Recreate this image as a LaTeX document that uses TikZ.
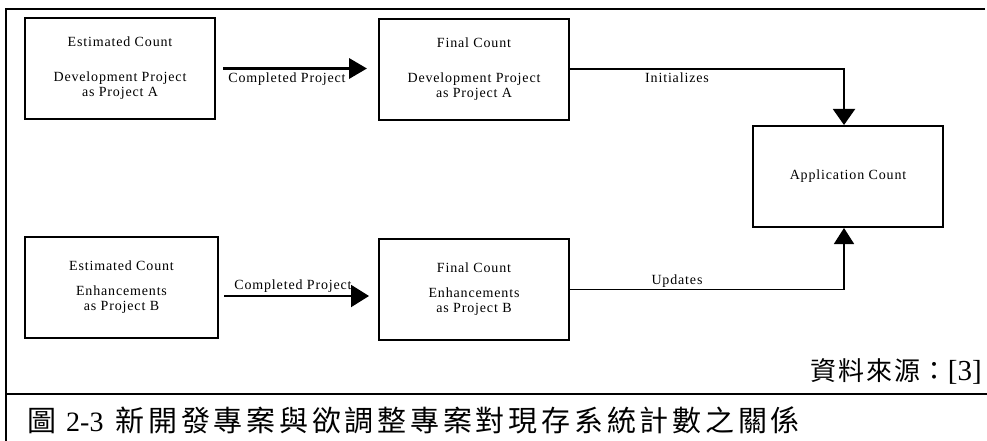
\documentclass[tikz,border=0pt]{standalone}
\usepackage{fontspec}
\setmainfont{Liberation Serif}
\newfontfamily\boxfont[LetterSpace=6]{Liberation Serif}
\newfontfamily\cjkcap[LetterSpace=13]{Noto Sans CJK TC}
\newfontfamily\cjksrc[LetterSpace=7]{Noto Sans CJK TC}
\usetikzlibrary{arrows.meta}
\tikzset{
  box/.style={draw, line width=2pt, minimum width=190pt, minimum height=101pt,
    inner sep=0pt, align=center, font=\boxfont\fontsize{14}{15}\selectfont},
  lbl/.style={inner sep=0pt, anchor=base, font=\boxfont\fontsize{14}{15}\selectfont},
  frame/.style={line width=2pt},
}
\begin{document}
\begin{tikzpicture}[x=1pt,y=-1pt]
\useasboundingbox[fill=white] (0,0) rectangle (987,441);

% frame
\draw[frame] (985,9) -- (6,9) -- (6,441);
\draw[line width=2.5pt] (6,394) -- (987,394);

% boxes
\node[box] (e1) at (120,68.5) {Estimated Count\\[20pt]Development Project\\as Project A};
\node[box] (f1) at (474,69.5) {Final Count\\[20pt]Development Project\\as Project A};
\node[box, minimum width=193pt] (e2) at (121.5,287.5) {Estimated Count\\[10pt]Enhancements\\as Project B};
\node[box] (f2) at (474,289.5) {Final Count\\[10pt]Enhancements\\as Project B};
\node[box] (app) at (848,176.5) {Application Count};

% connectors
\draw[line width=3.5pt, -{Triangle[length=18pt,width=20pt]}, shorten <=7pt, shorten >=11pt]
  (e1.east) -- (e1.east -| f1.west);
\draw[line width=2pt, -{Triangle[length=18pt,width=22pt]}, shorten <=5pt, shorten >=9pt]
  ([yshift=-8.5pt]e2.east) -- ([yshift=-6.5pt]f2.west);
\draw[line width=2pt, -{Triangle[length=16pt,width=22pt]}]
  (f1.east) -| ([xshift=-4pt]app.north);
\draw[line width=1.6pt, -{Triangle[length=16pt,width=20pt]}]
  (f2.east) -| ([xshift=-4pt]app.south);

% connector labels
\node[lbl] (c1) at (287,83) {Completed Project};
\node[lbl] (c2) at (293,289) {Completed Project};
\node[lbl] (ini) at (677,83) {Initializes};
\node[lbl] (upd) at (677,284) {Updates};

% source and caption
\node[anchor=base east, inner sep=0pt] (src) at (982,380)
  {\cjksrc\fontsize{26}{28}\selectfont 資料來源：\fontspec{Liberation Serif}\fontsize{29}{30}\selectfont[3]};
\node[anchor=base west, inner sep=0pt] (cap) at (27,431.5)
  {\cjkcap\fontsize{29}{30}\selectfont 圖\hspace{10pt}{\fontspec{Liberation Serif}\fontsize{28}{30}\selectfont 2-3}\hspace{12pt}新開發專案與欲調整專案對現存系統計數之關係};
\end{tikzpicture}
\end{document}
